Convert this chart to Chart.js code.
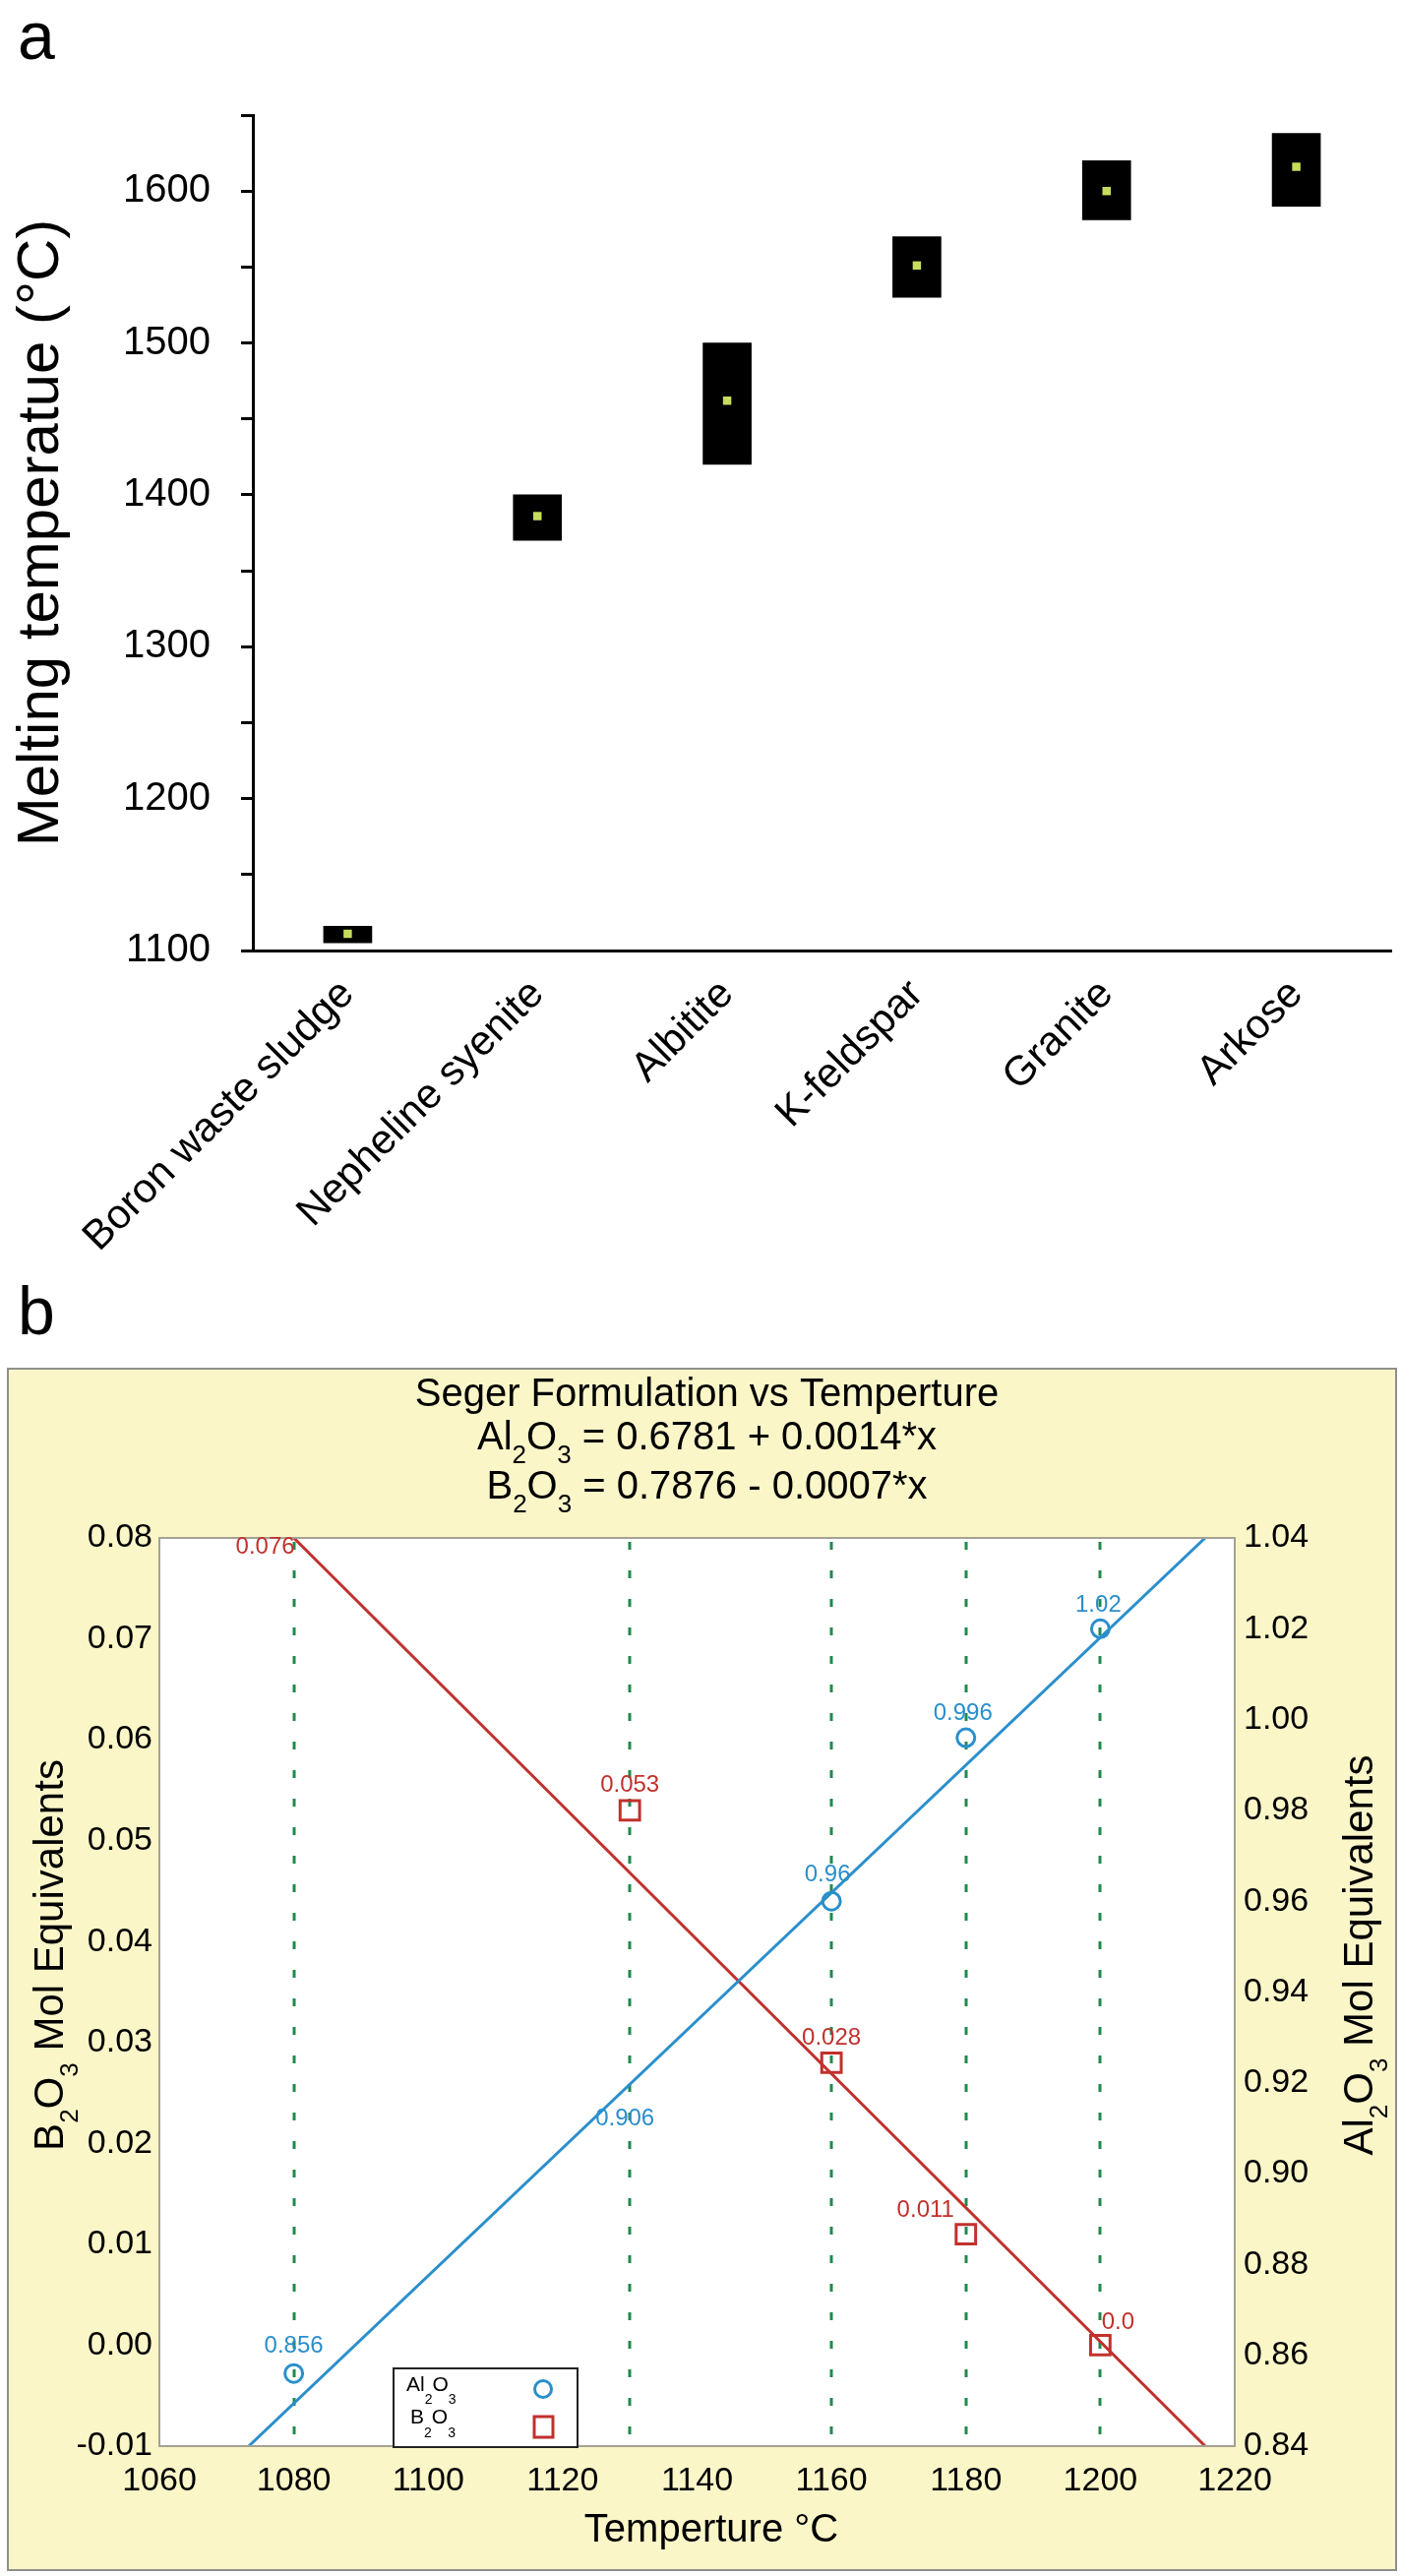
<!DOCTYPE html>
<html>
<head>
<meta charset="utf-8">
<script src="https://cdn.jsdelivr.net/npm/chart.js@4.4.1/dist/chart.umd.min.js"></script>
<style>
  html, body { margin: 0; padding: 0; background: #ffffff; }
  body { width: 1425px; height: 2618px; position: relative; overflow: hidden;
         font-family: "Liberation Sans", Arial, Helvetica, sans-serif; }
  .plabel { position: absolute; font-size: 68px; line-height: 68px; color: #000; }
  #wrapA { position: absolute; left: 0; top: 0; width: 1425px; height: 1300px; }
  #boxB { position: absolute; left: 7px; top: 1390px; width: 1413px; height: 1223px;
          box-sizing: border-box; border: 2px solid #8f8f8a; background: #fbf6c8; }
  #wrapB { position: relative; width: 100%; height: 100%; }
</style>
</head>
<body>
<div class="plabel" style="left:18px; top:2px;">a</div>
<div class="plabel" style="left:18px; top:1298px;">b</div>
<div id="wrapA"><canvas id="chartA"></canvas></div>
<div id="boxB"><div id="wrapB"><canvas id="chartB"></canvas></div></div>

<script>
// ---------------- Panel a data ----------------
const categories = ['Boron waste sludge', 'Nepheline syenite', 'Albitite', 'K-feldspar', 'Granite', 'Arkose'];
const meltMin  = [1105, 1370, 1420, 1530, 1581, 1590];
const meltMax  = [1116, 1400, 1500, 1570, 1620, 1638];
const meltMean = [1111, 1386, 1462, 1551, 1600, 1616];
const meltAxisMin = 1100;
const meltAxisMax = 1650;

// ---------------- Panel b data ----------------
const temps  = [1080, 1130, 1160, 1180, 1200];          // °C
const al2o3  = [0.856, 0.906, 0.96, 0.996, 1.02];        // right axis
const b2o3   = [0.076, 0.053, 0.028, 0.011, 0.0];        // left axis
const alFitT = [1073.3, 1215.6];
const alFitV = [0.84, 1.04];
const bFitT  = [1080, 1215.6];
const bFitV  = [0.08, -0.01];
const tempAxis = [1060, 1220];
const bAxis    = [-0.01, 0.08];
const alAxis   = [0.84, 1.04];

// ---------------- style ----------------
const FONT = '"Liberation Sans", Arial, Helvetica, sans-serif';
Chart.defaults.font.family = FONT;
Chart.defaults.color = '#000';
const BLUE = '#2a8fcc';
const RED = '#c1312d';
const GREEN = '#1f8a4c';
const alMarkerShown = [true, false, true, true, true];
const bMarkerShown  = [false, true, true, true, true];
const alLabelDx = [0, -5, -4, -3, -2];
const alLabelDy = [-28, -28, -27, -25, -24];
const bLabelDx  = [-29, 0, 0, -41, 18];
const bLabelDy  = [-32, -26, -25, -24, -23];

// ================= Chart A =================
new Chart(document.getElementById('chartA'), {
  type: 'bar',
  data: {
    labels: categories,
    datasets: [
      {
        type: 'line',
        label: 'mean',
        data: meltMean,
        showLine: false,
        pointStyle: 'rect',
        pointRadius: 6,
        pointBackgroundColor: '#c6dc5c',
        pointBorderWidth: 0,
        order: 0
      },
      {
        type: 'bar',
        label: 'range',
        data: meltMin.map((v, i) => [v, meltMax[i]]),
        backgroundColor: '#000',
        borderWidth: 0,
        borderSkipped: false,
        barThickness: 49,
        order: 1
      }
    ]
  },
  options: {
    responsive: true,
    maintainAspectRatio: false,
    animation: false,
    layout: { padding: { top: 117, right: 11, left: 0, bottom: 0 } },
    plugins: { legend: { display: false }, tooltip: { enabled: false } },
    scales: {
      x: {
        type: 'category',
        offset: true,
        grid: { display: false, drawTicks: false },
        border: { display: true, color: '#000', width: 3 },
        ticks: { font: { size: 42 }, color: '#000', minRotation: 45, maxRotation: 45, padding: 20, autoSkip: false },
        afterFit: (s) => { s.height = 1300 - 966; }
      },
      y: {
        min: meltAxisMin,
        max: meltAxisMax,
        grid: { drawOnChartArea: false, drawTicks: true, tickLength: 12, tickWidth: 3, tickColor: '#000' },
        border: { display: true, color: '#000', width: 3 },
        ticks: {
          stepSize: 50, autoSkip: false, padding: 31,
          font: { size: 40 }, color: '#000',
          callback: (v) => (v % 100 === 0 ? String(v) : '')
        },
        title: { display: true, text: 'Melting temperatue (°C)', font: { size: 60 }, color: '#000', padding: { top: 6, bottom: 0 } },
        afterFit: (s) => { s.width = 257; }
      }
    }
  }
});

// ================= Chart B =================
function drawRich(ctx, parts, x, y, align, mainSize, subSize, subDrop) {
  let w = 0;
  parts.forEach(p => {
    ctx.font = (p.sub ? subSize : mainSize) + 'px ' + FONT;
    p.w = ctx.measureText(p.t).width;
    w += p.w;
  });
  let cx = align === 'center' ? x - w / 2 : x;
  ctx.textAlign = 'left';
  ctx.textBaseline = 'alphabetic';
  parts.forEach(p => {
    ctx.font = (p.sub ? subSize : mainSize) + 'px ' + FONT;
    ctx.fillText(p.t, cx, y + (p.sub ? subDrop : 0));
    cx += p.w;
  });
}
const AL = [{t: 'Al'}, {t: '2', sub: true}, {t: 'O'}, {t: '3', sub: true}];
const BO = [{t: 'B'}, {t: '2', sub: true}, {t: 'O'}, {t: '3', sub: true}];

const panelB = {
  id: 'panelB',
  beforeDraw(chart) {
    const {ctx, chartArea: a} = chart;
    ctx.save();
    ctx.fillStyle = '#ffffff';
    ctx.fillRect(a.left, a.top, a.right - a.left, a.bottom - a.top);
    ctx.restore();
  },
  beforeDatasetsDraw(chart) {
    const {ctx, chartArea: a, scales} = chart;
    ctx.save();
    ctx.strokeStyle = GREEN;
    ctx.lineWidth = 3;
    ctx.setLineDash([8, 21]);
    temps.forEach(t => {
      const px = Math.round(scales.x.getPixelForValue(t));
      ctx.beginPath();
      ctx.moveTo(px, a.top + 4);
      ctx.lineTo(px, a.bottom);
      ctx.stroke();
    });
    ctx.restore();
  },
  afterDraw(chart) {
    const {ctx, chartArea: a, width} = chart;
    ctx.save();
    // plot frame
    ctx.strokeStyle = '#a3a293';
    ctx.lineWidth = 2;
    ctx.strokeRect(a.left, a.top, a.right - a.left, a.bottom - a.top);

    // point labels
    ctx.font = '24px ' + FONT;
    ctx.textAlign = 'center';
    ctx.textBaseline = 'middle';
    const mAl = chart.getDatasetMeta(0).data;
    const mB = chart.getDatasetMeta(1).data;
    ctx.fillStyle = BLUE;
    al2o3.forEach((v, i) => {
      ctx.fillText(String(v), mAl[i].x + alLabelDx[i], mAl[i].y + alLabelDy[i]);
    });
    ctx.fillStyle = RED;
    b2o3.forEach((v, i) => {
      const s = v === 0 ? '0.0' : String(v);
      ctx.fillText(s, mB[i].x + bLabelDx[i], mB[i].y + bLabelDy[i]);
    });

    // title
    ctx.fillStyle = '#000';
    const cx = width / 2 + 5;
    ctx.font = '40px ' + FONT;
    ctx.textAlign = 'center';
    ctx.textBaseline = 'alphabetic';
    ctx.fillText('Seger Formulation vs Temperture', cx, 37);
    drawRich(ctx, AL.concat([{t: ' = 0.6781 + 0.0014*x'}]), cx, 81, 'center', 40, 26, 14);
    drawRich(ctx, BO.concat([{t: ' = 0.7876 - 0.0007*x'}]), cx, 131, 'center', 40, 26, 14);

    // x title
    ctx.font = '40px ' + FONT;
    ctx.textAlign = 'center';
    ctx.fillText('Temperture °C', 714, 1191);

    // left y title (rotated)
    ctx.save();
    ctx.translate(55, 595);
    ctx.rotate(-Math.PI / 2);
    drawRich(ctx, BO.concat([{t: ' Mol Equivalents'}]), 0, 0, 'center', 42, 26, 15);
    ctx.restore();
    // right y title (rotated)
    ctx.save();
    ctx.translate(1386, 595);
    ctx.rotate(-Math.PI / 2);
    drawRich(ctx, AL.concat([{t: ' Mol Equivalents'}]), 0, 0, 'center', 42, 26, 15);
    ctx.restore();

    // legend
    const lx = 391, ly = 1015, lw = 187, lh = 80;
    ctx.fillStyle = '#ffffff';
    ctx.fillRect(lx, ly, lw, lh);
    ctx.strokeStyle = '#222';
    ctx.lineWidth = 2;
    ctx.strokeRect(lx, ly, lw, lh);
    ctx.fillStyle = '#000';
    drawRich(ctx, AL, lx + 13, ly + 23, 'left', 21, 14, 13);
    drawRich(ctx, BO, lx + 17, ly + 56, 'left', 21, 14, 14);
    ctx.strokeStyle = BLUE;
    ctx.lineWidth = 3;
    ctx.beginPath();
    ctx.arc(lx + 152, ly + 21, 8.5, 0, Math.PI * 2);
    ctx.stroke();
    ctx.strokeStyle = RED;
    ctx.strokeRect(lx + 143, ly + 49, 19, 21);
    ctx.restore();
  }
};

new Chart(document.getElementById('chartB'), {
  type: 'scatter',
  data: {
    datasets: [
      {
        label: 'Al2O3',
        yAxisID: 'y2',
        data: temps.map((t, i) => ({x: t, y: al2o3[i]})),
        showLine: false,
        pointStyle: 'circle',
        pointRadius: alMarkerShown.map(s => (s ? 9 : 0)),
        pointBorderWidth: 3,
        pointBorderColor: BLUE,
        pointBackgroundColor: 'rgba(0,0,0,0)'
      },
      {
        label: 'B2O3',
        yAxisID: 'y',
        data: temps.map((t, i) => ({x: t, y: b2o3[i]})),
        showLine: false,
        pointStyle: 'rect',
        pointRadius: bMarkerShown.map(s => (s ? 14 : 0)),
        pointBorderWidth: 3,
        pointBorderColor: RED,
        pointBackgroundColor: 'rgba(0,0,0,0)'
      },
      {
        label: 'Al2O3 fit',
        yAxisID: 'y2',
        data: alFitT.map((t, i) => ({x: t, y: alFitV[i]})),
        showLine: true,
        borderColor: BLUE,
        borderWidth: 3,
        pointRadius: 0
      },
      {
        label: 'B2O3 fit',
        yAxisID: 'y',
        data: bFitT.map((t, i) => ({x: t, y: bFitV[i]})),
        showLine: true,
        borderColor: RED,
        borderWidth: 3,
        pointRadius: 0
      }
    ]
  },
  options: {
    responsive: true,
    maintainAspectRatio: false,
    animation: false,
    layout: { padding: { top: 171, left: 0, right: 0, bottom: 0 } },
    plugins: { legend: { display: false }, tooltip: { enabled: false } },
    scales: {
      x: {
        type: 'linear',
        min: tempAxis[0], max: tempAxis[1],
        grid: { display: false, drawTicks: false },
        border: { display: false },
        ticks: { stepSize: 20, font: { size: 34 }, color: '#000', padding: 15,
                 callback: (v) => String(v) },
        afterFit: (s) => { s.height = 125; }
      },
      y: {
        position: 'left',
        min: bAxis[0], max: bAxis[1],
        grid: { display: false, drawTicks: false },
        border: { display: false },
        ticks: { stepSize: 0.01, font: { size: 34 }, color: '#000', padding: 7,
                 callback: (v) => v.toFixed(2) },
        afterFit: (s) => { s.width = 153; }
      },
      y2: {
        position: 'right',
        min: alAxis[0], max: alAxis[1],
        grid: { display: false, drawTicks: false },
        border: { display: false },
        ticks: { stepSize: 0.02, font: { size: 34 }, color: '#000', padding: 9,
                 callback: (v) => v.toFixed(2) },
        afterFit: (s) => { s.width = 163; }
      }
    }
  },
  plugins: [panelB]
});
</script>
</body>
</html>
